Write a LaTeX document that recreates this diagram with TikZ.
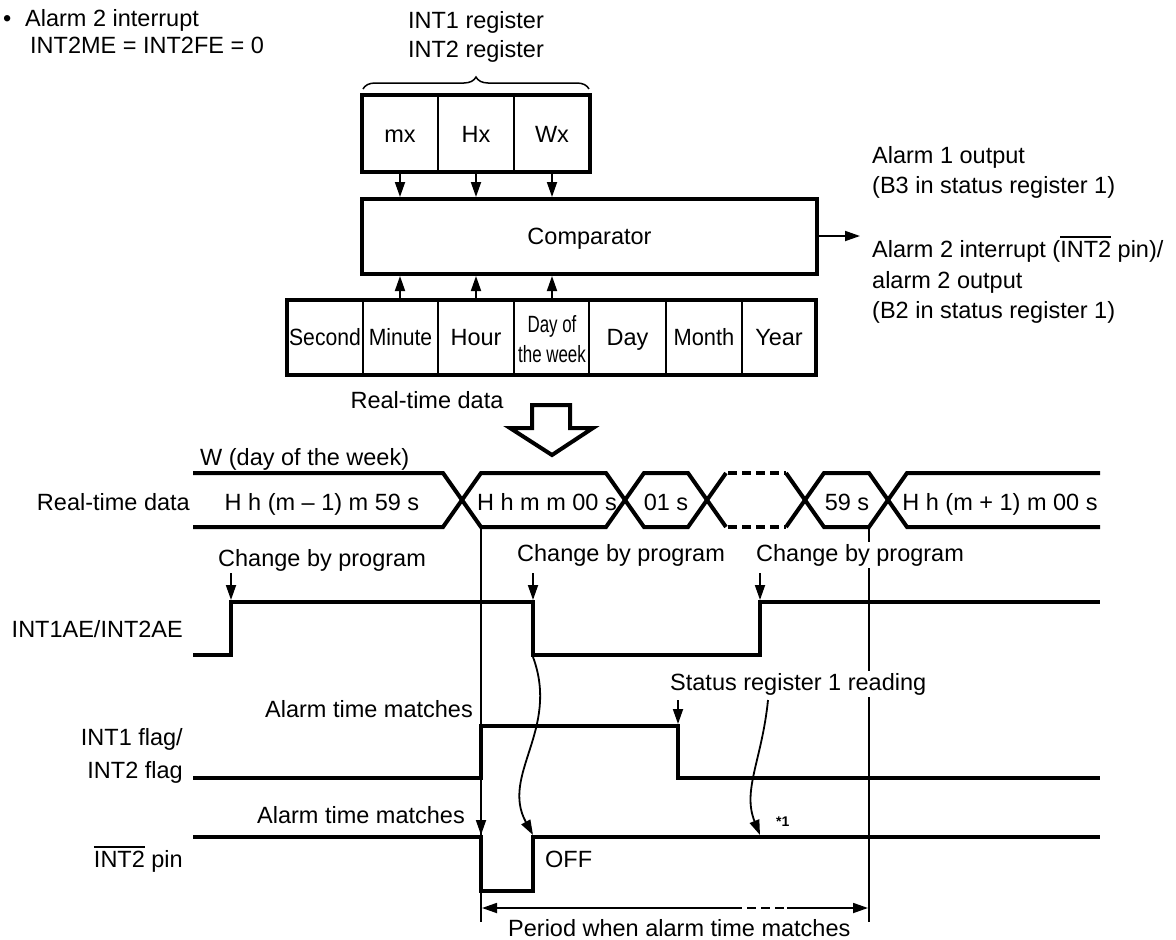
\documentclass[tikz,border=0pt]{standalone}
\usepackage{fontspec}
\setmainfont{Liberation Sans}
\usepackage{graphicx}
\usetikzlibrary{arrows.meta,decorations.pathreplacing}
\newcommand\ovl[1]{\begingroup\setbox0\hbox{#1}\rlap{\rule[\dimexpr\ht0+2.5pt\relax]{\wd0}{1.8pt}}\box0\endgroup}
\begin{document}
\begin{tikzpicture}[x=1pt,y=-1pt,
  every node/.style={font=\fontsize{23.5}{30}\selectfont, inner sep=0pt},
  thickbox/.style={line width=4pt},
  divider/.style={line width=2pt},
  sig/.style={line width=4pt, line join=miter},
  refline/.style={line width=1.8pt},
  tip/.tip={Triangle[length=15pt,width=10pt]},
  arr/.style={line width=1.8pt, -tip},
  mask/.style={fill=white, inner sep=2pt}]
\useasboundingbox (0,0) rectangle (1176,940);

% ---------- header text ----------
\node[anchor=base west] (bul) at (3,26) {•};
\node[anchor=base west] (a2int) at (25,26) {Alarm 2 interrupt};
\node[anchor=base west] (int2me) at (30,53) {INT2ME = INT2FE = 0};
\node[anchor=base] (reg1) at (476,28) {INT1 register};
\node[anchor=base] (reg2) at (476,57) {INT2 register};
\draw[line width=1.5pt, decorate, decoration={brace,amplitude=12pt}] (363,89) -- (589,89);

% ---------- register box ----------
\draw[thickbox] (362,95) rectangle (590,172);
\draw[divider] (438,95) -- (438,172) (514,95) -- (514,172);
\node[anchor=base] (mx) at (400,142) {mx};
\node[anchor=base] (hx) at (476,142) {Hx};
\node[anchor=base] (wx) at (552,142) {Wx};

% ---------- comparator ----------
\draw[thickbox] (362,199) rectangle (817,274);
\node[anchor=base] (cmp) at (589.5,244) {Comparator};
\coordinate (cmpT1) at (400,197); \coordinate (cmpT2) at (476,197); \coordinate (cmpT3) at (552,197);
\coordinate (regB1) at (400,174); \coordinate (regB2) at (476,174); \coordinate (regB3) at (552,174);
\coordinate (cmpB1) at (400,276); \coordinate (cmpB2) at (476,276); \coordinate (cmpB3) at (552,276);
\coordinate (datT1) at (400,298); \coordinate (datT2) at (476,298); \coordinate (datT3) at (552,298);
\draw[arr] (regB1) -- (cmpT1);
\draw[arr] (regB2) -- (cmpT2);
\draw[arr] (regB3) -- (cmpT3);
\draw[arr] (datT1) -- (cmpB1);
\draw[arr] (datT2) -- (cmpB2);
\draw[arr] (datT3) -- (cmpB3);
\coordinate (cmpR) at (819,236); \coordinate (outE) at (860,236);
\draw[arr] (cmpR) -- (outE);

% ---------- right-side outputs ----------
\node[anchor=base west] (o1a) at (872,163) {Alarm 1 output};
\node[anchor=base west] (o1b) at (872,193) {(B3 in status register 1)};
\node[anchor=base west] (o2a) at (872,257) {Alarm 2 interrupt (\ovl{INT2} pin)/};
\node[anchor=base west] (o2b) at (872,288) {alarm 2 output};
\node[anchor=base west] (o2c) at (872,318) {(B2 in status register 1)};

% ---------- real-time data box ----------
\draw[thickbox] (287,300) rectangle (816,375);
\draw[divider] (363,300) -- (363,375) (438,300) -- (438,375) (514,300) -- (514,375)
               (589,300) -- (589,375) (666,300) -- (666,375) (742,300) -- (742,375);
\node[anchor=base] (sec) at (325,345) {\scalebox{0.9}[1]{Second}};
\node[anchor=base] (min) at (400.5,345) {\scalebox{0.9}[1]{Minute}};
\node[anchor=base] (hour) at (476,345) {Hour};
\node[anchor=base] (dow1) at (552,332) {\scalebox{0.72}[1]{Day of}};
\node[anchor=base] (dow2) at (552,362) {\scalebox{0.72}[1]{the week}};
\node[anchor=base] (day) at (627.5,345) {Day};
\node[anchor=base] (mon) at (704,345) {\scalebox{0.93}[1]{Month}};
\node[anchor=base] (year) at (779,345) {Year};

\node[anchor=base] (rtd) at (427,408) {Real-time data};
\draw[line width=4pt, line join=miter]
  (532,405) -- (570,405) -- (570,428) -- (593,428) -- (552,455) -- (510,428) -- (532,428) -- cycle;

% ---------- timing: real-time data bus ----------
\node[anchor=base west] (wlbl) at (200,465) {W (day of the week)};
\node[anchor=base east] (rtlbl) at (190,510) {Real-time data};
\draw[sig] (193,473) -- (443,473) -- (481,527) -- (606,527) -- (644,473) -- (688,473) -- (726,527);
\draw[sig] (193,527) -- (443,527) -- (481,473) -- (606,473) -- (644,527) -- (688,527) -- (726,473);
\draw[sig] (786,527) -- (824,473) -- (869,473) -- (907,527) -- (1100,527);
\draw[sig] (786,473) -- (824,527) -- (869,527) -- (907,473) -- (1100,473);
\draw[sig, dash pattern=on 9pt off 5pt] (728,473) -- (786,473) (728,527) -- (786,527);
\node[anchor=base] (s1) at (322,510) {H h (m – 1) m 59 s};
\node[anchor=base] (s2) at (547,510) {H h m m 00 s};
\node[anchor=base] (s3) at (666,510) {01 s};
\node[anchor=base] (s4) at (847,510) {59 s};
\node[anchor=base] (s5) at (1000,510) {H h (m + 1) m 00 s};

% ---------- reference verticals ----------
\coordinate (vL0) at (481,527); \coordinate (vL1) at (481,922);
\coordinate (vR0) at (869,527); \coordinate (vR1) at (869,922);
\draw[refline] (vL0) -- (vL1);
\draw[refline] (vR0) -- (vR1);

% ---------- INT1AE/INT2AE ----------
\node[anchor=base east] (aelbl) at (183,637) {INT1AE/INT2AE};
\draw[sig] (193,655) -- (231,655) -- (231,602) -- (533,602) -- (533,655) -- (760,655) -- (760,602) -- (1100,602);
\node[anchor=base west] (cp1) at (218,566) {Change by program};
\node[anchor=base west] (cp2) at (517,561) {Change by program};
\node[anchor=base west, mask] (cp3) at (754,561) {Change by program};
\coordinate (cp1a) at (231,573); \coordinate (cp1b) at (231,600);
\coordinate (cp2a) at (533,573); \coordinate (cp2b) at (533,600);
\coordinate (cp3a) at (760,573); \coordinate (cp3b) at (760,600);
\draw[arr] (cp1a) -- (cp1b);
\draw[arr] (cp2a) -- (cp2b);
\draw[arr] (cp3a) -- (cp3b);

% ---------- INT flags ----------
\node[anchor=base east] (fl1) at (183,745) {INT1 flag/};
\node[anchor=base east] (fl2) at (183,778) {INT2 flag};
\draw[sig] (193,778) -- (481,778) -- (481,726) -- (678,726) -- (678,778) -- (1100,778);
\node[anchor=base east] (atm1) at (473,717) {Alarm time matches};
\node[anchor=base west, mask] (srr) at (668,690) {Status register 1 reading};
\coordinate (srA) at (678,700); \coordinate (srB) at (678,724);
\draw[arr] (srA) -- (srB);

% ---------- INT2 pin ----------
\node[anchor=base east] (pinlbl) at (183,867) {\ovl{INT2} pin};
\draw[sig] (193,837) -- (481,837) -- (481,891) -- (533,891) -- (533,837) -- (1100,837);
\node[anchor=base east] (atm2) at (465,823) {Alarm time matches};
\coordinate (atA) at (481,805); \coordinate (atB) at (481,835);
\draw[arr] (atA) -- (atB);
\node[anchor=base west] (off) at (545,867) {OFF};
\node[anchor=base west, font=\bfseries\fontsize{14}{16}\selectfont] (star) at (776,826) {*1};

% wavy arrows
\coordinate (w1a) at (533,657); \coordinate (w1b) at (533,835);
\draw[arr] (w1a) .. controls (560,730) and (500,775) .. (w1b);
\coordinate (w2a) at (768,700); \coordinate (w2b) at (760,835);
\draw[arr] (w2a) .. controls (762,760) and (742,790) .. (w2b);

% ---------- period dimension ----------
\coordinate (dA) at (482,908); \coordinate (dB) at (733,908);
\coordinate (dC) at (787,908); \coordinate (dD) at (868,908);
\draw[refline, tip-] (dA) -- (dB);
\draw[refline, dash pattern=on 9pt off 5pt] (dB) -- (dC);
\draw[refline, -tip] (dC) -- (dD);
\node[anchor=base west] (period) at (508,936) {Period when alarm time matches};
\end{tikzpicture}
\end{document}
